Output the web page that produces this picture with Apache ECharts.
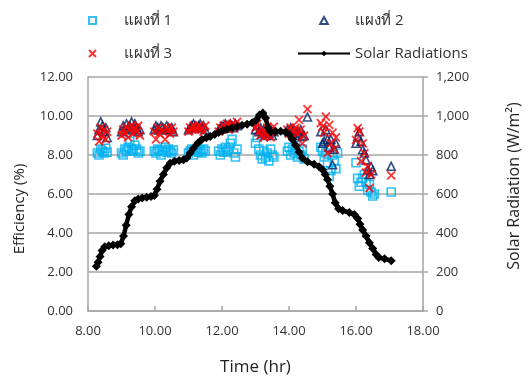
<!DOCTYPE html>
<html>
<head>
<meta charset="utf-8">
<script src="https://cdn.jsdelivr.net/npm/echarts@6/dist/echarts.min.js"></script>
<style>
  html, body { margin: 0; padding: 0; background: #fff; }
  #chart { width: 528px; height: 381px; }
</style>
</head>
<body>
<div id="chart"></div>
<script>
// [time (hr), efficiency (%)]
const panel1 = [
  [8.28, 8.1], [8.33, 8.0], [8.38, 8.3], [8.43, 8.2], [8.48, 8.1], [8.53, 8.35], [8.57, 8.15],
  [9.0, 8.1], [9.05, 8.0], [9.1, 8.3], [9.15, 8.2], [9.2, 8.4], [9.25, 8.7], [9.3, 8.3], [9.35, 8.2], [9.4, 8.5], [9.45, 8.3], [9.5, 8.1], [9.55, 8.2],
  [9.98, 8.2], [10.03, 8.1], [10.08, 8.3], [10.13, 8.2], [10.18, 8.0], [10.23, 8.25], [10.3, 8.4], [10.35, 8.15], [10.4, 8.3], [10.45, 8.2], [10.5, 8.1], [10.55, 8.25],
  [11.0, 8.1], [11.05, 8.2], [11.1, 8.3], [11.15, 8.0], [11.2, 8.2], [11.25, 8.35], [11.3, 8.15], [11.35, 8.25], [11.4, 8.1], [11.45, 8.3], [11.5, 8.2],
  [11.9, 8.2], [11.95, 8.0], [12.0, 8.3], [12.05, 8.15], [12.1, 8.4], [12.15, 8.2], [12.2, 8.3], [12.25, 8.6], [12.3, 8.8], [12.35, 8.1], [12.4, 7.9], [12.45, 8.3],
  [13.0, 8.6], [13.05, 8.9], [13.1, 8.3], [13.15, 8.0], [13.2, 7.8], [13.25, 8.2], [13.3, 7.9], [13.35, 8.1], [13.4, 7.7], [13.45, 8.3], [13.5, 8.0], [13.55, 7.9],
  [13.95, 8.2], [14.0, 8.4], [14.05, 8.0], [14.1, 8.3], [14.15, 8.1], [14.2, 8.5], [14.25, 7.9], [14.3, 8.2], [14.35, 8.0], [14.4, 8.3], [14.45, 7.8],
  [14.95, 8.4], [15.0, 8.2], [15.05, 7.9], [15.1, 8.1], [15.15, 7.6], [15.2, 6.9], [15.25, 7.2], [15.3, 8.0], [15.35, 7.7], [15.4, 7.3], [15.45, 8.1],
  [16.0, 7.6], [16.05, 6.8], [16.1, 6.4], [16.15, 6.6], [16.2, 6.8], [16.25, 7.0], [16.3, 6.6], [16.35, 6.2], [16.4, 6.5], [16.45, 6.1], [16.5, 5.9], [16.55, 6.0],
  [17.05, 6.1]
];

const panel2 = [
  [8.28, 9.0], [8.33, 9.3], [8.38, 9.7], [8.43, 9.5], [8.48, 9.2], [8.53, 9.4], [8.57, 8.9],
  [9.0, 9.2], [9.05, 9.5], [9.1, 9.3], [9.15, 9.6], [9.2, 9.4], [9.25, 9.5], [9.3, 9.7], [9.35, 9.3], [9.4, 9.6], [9.45, 9.4], [9.5, 9.2], [9.55, 9.3],
  [9.98, 9.3], [10.03, 9.5], [10.08, 9.4], [10.13, 9.3], [10.18, 9.5], [10.23, 9.4], [10.3, 9.3], [10.35, 9.5], [10.4, 9.4], [10.45, 9.3], [10.5, 9.4], [10.55, 9.2],
  [11.0, 9.3], [11.05, 9.4], [11.1, 9.5], [11.15, 9.6], [11.2, 9.5], [11.25, 9.4], [11.3, 9.5], [11.35, 9.6], [11.4, 9.4], [11.45, 9.5], [11.5, 9.3],
  [11.9, 9.3], [11.95, 9.4], [12.0, 9.5], [12.05, 9.4], [12.1, 9.6], [12.15, 9.5], [12.2, 9.4], [12.25, 9.6], [12.3, 9.5], [12.35, 9.4], [12.4, 9.6], [12.45, 9.5],
  [13.0, 9.3], [13.05, 9.5], [13.1, 9.2], [13.15, 9.4], [13.2, 9.1], [13.25, 9.3], [13.3, 9.0], [13.35, 9.2], [13.4, 9.1], [13.45, 9.3], [13.5, 9.0], [13.55, 9.2],
  [13.95, 9.3], [14.0, 9.2], [14.05, 9.4], [14.1, 9.1], [14.15, 9.3], [14.2, 9.0], [14.25, 9.2], [14.3, 9.1], [14.35, 9.3], [14.4, 8.95], [14.45, 9.0], [14.55, 9.95],
  [14.95, 9.2], [15.0, 8.6], [15.05, 8.7], [15.1, 9.3], [15.15, 8.8], [15.2, 8.4], [15.25, 8.8], [15.3, 7.5], [15.35, 8.3], [15.4, 8.6],
  [16.0, 8.6], [16.05, 8.95], [16.1, 9.2], [16.15, 8.7], [16.2, 8.27], [16.25, 8.1], [16.3, 7.75], [16.35, 7.25], [16.4, 7.0], [16.45, 7.4], [16.5, 7.2],
  [17.05, 7.42]
];

const panel3 = [
  [8.28, 9.1], [8.33, 8.7], [8.38, 9.4], [8.43, 9.0], [8.48, 9.3], [8.53, 8.8], [8.57, 9.2],
  [9.0, 9.0], [9.05, 9.3], [9.1, 9.1], [9.15, 9.4], [9.2, 8.9], [9.25, 9.3], [9.3, 9.5], [9.35, 9.1], [9.4, 9.4], [9.45, 9.2], [9.5, 9.5], [9.55, 9.0],
  [9.98, 9.2], [10.03, 8.8], [10.08, 9.4], [10.13, 9.1], [10.18, 9.3], [10.23, 9.2], [10.3, 8.8], [10.35, 9.4], [10.4, 9.3], [10.45, 9.1], [10.5, 9.4], [10.55, 9.2],
  [11.0, 9.2], [11.05, 9.4], [11.1, 9.3], [11.15, 9.5], [11.2, 9.3], [11.25, 9.4], [11.3, 9.5], [11.35, 9.3], [11.4, 9.4], [11.45, 9.2], [11.5, 9.5],
  [11.9, 9.2], [11.95, 9.4], [12.0, 9.3], [12.05, 9.5], [12.1, 9.4], [12.15, 9.6], [12.2, 9.3], [12.25, 9.5], [12.3, 9.6], [12.35, 9.4], [12.4, 9.5], [12.45, 9.7],
  [13.0, 9.4], [13.05, 9.6], [13.1, 9.2], [13.15, 9.0], [13.2, 9.3], [13.25, 8.9], [13.3, 9.1], [13.35, 9.4], [13.4, 9.0], [13.45, 8.9], [13.5, 9.2], [13.55, 9.45],
  [13.95, 9.3], [14.0, 9.1], [14.05, 9.4], [14.1, 9.0], [14.15, 9.2], [14.2, 9.4], [14.25, 9.1], [14.3, 9.8], [14.35, 9.3], [14.4, 8.6], [14.45, 9.0], [14.55, 10.35],
  [14.95, 9.64], [15.0, 9.46], [15.05, 9.15], [15.1, 9.97], [15.15, 8.1], [15.2, 9.55], [15.25, 8.6], [15.3, 9.15], [15.35, 8.3], [15.4, 8.9],
  [16.0, 8.78], [16.05, 9.38], [16.1, 9.2], [16.15, 7.68], [16.2, 8.6], [16.25, 8.1], [16.3, 7.1], [16.35, 7.42], [16.4, 6.3], [16.45, 7.0],
  [17.05, 6.95]
];

// [time (hr), solar radiation (W/m2)]
const radiation = [
  [8.25, 230], [8.30, 250], [8.36, 280], [8.42, 310], [8.50, 330], [8.62, 335], [8.75, 338], [8.88, 340], [8.98, 345],
  [9.06, 385], [9.14, 440], [9.22, 495], [9.30, 535], [9.40, 565], [9.50, 575], [9.62, 580], [9.75, 583], [9.88, 587], [9.98, 592],
  [10.06, 625], [10.15, 665], [10.25, 700], [10.35, 735], [10.45, 758], [10.58, 768], [10.72, 772], [10.85, 776], [10.95, 785],
  [11.05, 810], [11.15, 835], [11.28, 862], [11.40, 880], [11.53, 888], [11.65, 895], [11.78, 905], [11.90, 915],
  [12.02, 925], [12.15, 932], [12.30, 940], [12.45, 946], [12.60, 952], [12.75, 958], [12.90, 965],
  [13.02, 980], [13.12, 1005], [13.22, 1015], [13.30, 990], [13.38, 940], [13.45, 918], [13.60, 920], [13.75, 922], [13.90, 918],
  [14.00, 905], [14.10, 880], [14.20, 850], [14.30, 815], [14.40, 785], [14.55, 765], [14.75, 752], [14.90, 740],
  [15.00, 725], [15.08, 700], [15.15, 675], [15.22, 640], [15.30, 600], [15.38, 555], [15.48, 525], [15.60, 515], [15.80, 505], [15.95, 495],
  [16.05, 475], [16.12, 445], [16.20, 415], [16.30, 385], [16.40, 350], [16.50, 320], [16.60, 290], [16.68, 275], [16.85, 268],
  [17.05, 258]
];

const seriesNames = ["แผงที่ 1", "แผงที่ 2", "แผงที่ 3", "Solar Radiations"];
const leftAxisName = "Efficiency (%)";
const rightAxisName = "Solar Radiation (W/m²)";

const FONT = "'Open Sans', 'Noto Sans', sans-serif";
const AXIS_GRAY = "#A6A6A6";
const SQUARE = "path://M0,0H10V10H0Z";
const TRIANGLE = "path://M5,0L10,9H0Z";
const CROSS = "path://M0,0L10,10M10,0L0,10";

const chart = echarts.init(document.getElementById("chart"), null, { renderer: "canvas" });

const legendBase = {
  orient: "vertical",
  top: 8,
  itemWidth: 52,
  itemHeight: 7,
  itemGap: 18,
  symbolKeepAspect: true,
  textStyle: { fontFamily: FONT, fontSize: 15, color: "#333" },
};

chart.setOption({
  animation: false,
  backgroundColor: "#fff",
  textStyle: { fontFamily: FONT },
  legend: [
    { ...legendBase, left: 83, data: [seriesNames[0], seriesNames[2]] },
    { ...legendBase, left: 292, data: [seriesNames[1], seriesNames[3]] },
  ],
  grid: { left: 88, right: 105, top: 77, bottom: 69 },
  graphic: [
    {
      type: "text",
      x: 20,
      y: 209,
      rotation: Math.PI / 2,
      style: { text: leftAxisName, align: "center", verticalAlign: "middle", font: "15px " + FONT, fill: "#222" },
    },
    {
      type: "text",
      x: 514,
      y: 186,
      rotation: Math.PI / 2,
      style: { text: rightAxisName, align: "center", verticalAlign: "middle", font: "16px " + FONT, fill: "#222" },
    },
  ],
  xAxis: {
    type: "value",
    min: 8,
    max: 18,
    interval: 2,
    name: "Time (hr)",
    nameLocation: "middle",
    nameGap: 48,
    nameTextStyle: { fontFamily: FONT, fontSize: 17, color: "#222" },
    axisLine: { lineStyle: { color: AXIS_GRAY, width: 1.5 } },
    axisTick: { show: true, inside: true, length: 5, lineStyle: { color: AXIS_GRAY, width: 1.5 } },
    axisLabel: { margin: 14, fontSize: 13, color: "#333", formatter: (v) => v.toFixed(2) },
    splitLine: { show: false },
  },
  yAxis: [
    {
      type: "value",
      min: 0,
      max: 12,
      interval: 2,
      axisLine: { show: true, lineStyle: { color: AXIS_GRAY, width: 1.5 } },
      axisTick: { show: false },
      axisLabel: { margin: 15, fontSize: 13, color: "#333", formatter: (v) => v.toFixed(2) },
      splitLine: { lineStyle: { color: AXIS_GRAY, width: 1.5 } },
    },
    {
      type: "value",
      min: 0,
      max: 1200,
      interval: 200,
      position: "right",
      axisLine: { show: true, lineStyle: { color: AXIS_GRAY, width: 1.5 } },
      axisTick: { show: true, length: 5, lineStyle: { color: AXIS_GRAY, width: 1.5 } },
      axisLabel: {
        margin: 13,
        fontSize: 13,
        color: "#333",
        formatter: (v) => v.toLocaleString("en-US"),
      },
      splitLine: { show: false },
    },
  ],
  series: [
    {
      name: seriesNames[0],
      type: "scatter",
      data: panel1,
      symbol: SQUARE,
      symbolSize: 8,
      itemStyle: { color: "rgba(0,0,0,0)", borderColor: "#00B0F0", borderWidth: 1.6 },
    },
    {
      name: seriesNames[1],
      type: "scatter",
      data: panel2,
      symbol: TRIANGLE,
      symbolSize: 8,
      itemStyle: { color: "rgba(0,0,0,0)", borderColor: "#002060", borderWidth: 1.6 },
    },
    {
      name: seriesNames[2],
      type: "scatter",
      data: panel3,
      symbol: CROSS,
      symbolSize: 8,
      itemStyle: { color: "rgba(0,0,0,0)", borderColor: "#FF0000", borderWidth: 1.8 },
    },
    {
      name: seriesNames[3],
      type: "line",
      yAxisIndex: 1,
      data: radiation,
      symbol: "diamond",
      symbolSize: 9,
      showAllSymbol: true,
      lineStyle: { color: "#000", width: 4.5 },
      itemStyle: { color: "#000" },
    },
  ],
});
</script>
</body>
</html>
